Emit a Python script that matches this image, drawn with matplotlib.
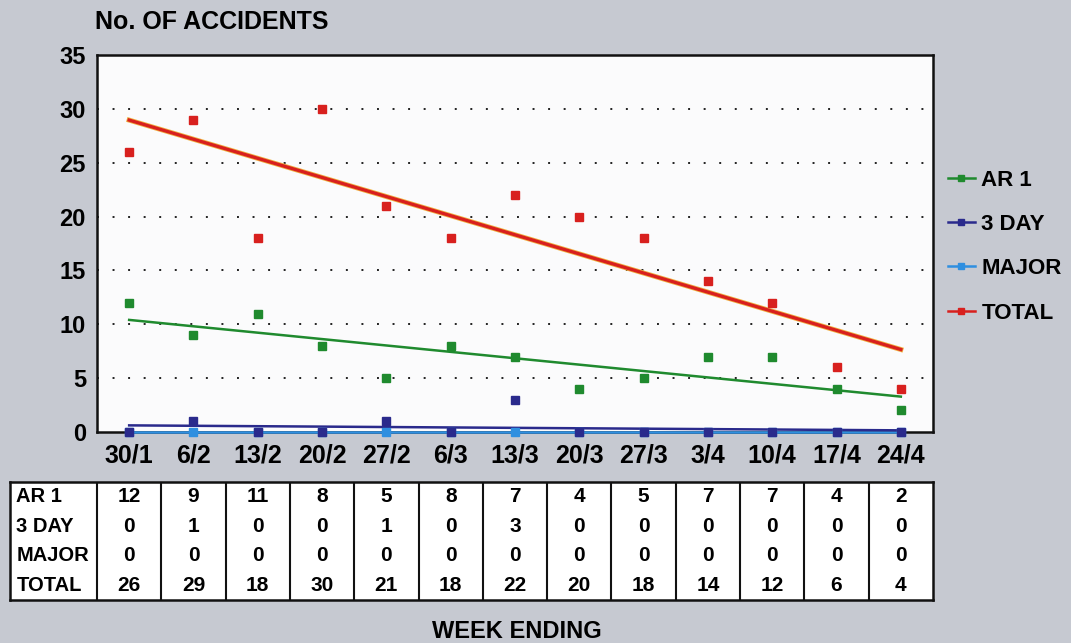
import numpy as np
import matplotlib.pyplot as plt
import matplotlib.patheffects as pe
from matplotlib.lines import Line2D

plt.rcParams['font.family'] = ['Liberation Sans', 'DejaVu Sans']

weeks = ['30/1', '6/2', '13/2', '20/2', '27/2', '6/3', '13/3', '20/3', '27/3', '3/4', '10/4', '17/4', '24/4']
ar1 = [12, 9, 11, 8, 5, 8, 7, 4, 5, 7, 7, 4, 2]
three_day = [0, 1, 0, 0, 1, 0, 3, 0, 0, 0, 0, 0, 0]
major = [0, 0, 0, 0, 0, 0, 0, 0, 0, 0, 0, 0, 0]
total = [26, 29, 18, 30, 21, 18, 22, 20, 18, 14, 12, 6, 4]

series = [('MAJOR', major, '#2f8fe0'),
          ('3 DAY', three_day, '#2a2a8c'),
          ('AR 1', ar1, '#1f8a2e'),
          ('TOTAL', total, '#d8201e')]

bg = '#c6c9d1'
fig = plt.figure(figsize=(10.71, 6.43), dpi=100, facecolor=bg)
ax = fig.add_axes([97/1071, 211/643, 836/1071, 377/643])
ax.set_facecolor('#fbfbfc')

x = np.arange(len(weeks))
for name, vals, col in series:
    k, b = np.polyfit(x, vals, 1)
    fx = np.array([0, len(weeks) - 1])
    lw = 2.4 if name == 'TOTAL' else 1.8
    effects = [pe.Stroke(linewidth=lw + 1.2, foreground='#f0b040'), pe.Normal()] if name == 'TOTAL' else None
    ax.plot(fx, k * fx + b, color=col, lw=lw, clip_on=False, zorder=3, path_effects=effects)
    ax.plot(x, vals, 's', color=col, ms=5.5, clip_on=False, zorder=4)

ax.set_xlim(-0.5, len(weeks) - 0.5)
ax.set_ylim(0, 35)
ax.set_yticks(range(0, 36, 5))
ax.set_xticks(x)
ax.set_xticklabels(weeks)
ax.tick_params(length=0, labelsize=18, pad=8)
ax.tick_params(axis='y', pad=8, labelsize=17)
for lab in ax.get_xticklabels() + ax.get_yticklabels():
    lab.set_fontweight('bold')
for yv in range(5, 35, 5):
    ax.axhline(yv, color='#222222', lw=1.4, ls=(0, (1, 7)), zorder=1)
for s in ax.spines.values():
    s.set_linewidth(1.8)
    s.set_color('#111111')

handles = [Line2D([], [], color=col, marker='s', ms=5, lw=1.8) for _, _, col in series]
order = [2, 1, 0, 3]
ax.legend([handles[i] for i in order], [series[i][0] for i in order],
          loc='upper left', bbox_to_anchor=(1.018, 0.696), frameon=False,
          borderaxespad=0, borderpad=0,
          handlelength=1.2, handletextpad=0.3, labelspacing=1.05,
          prop={'size': 16, 'weight': 'bold'})

fig.text(95/1071, 1 - 22/643, 'No. OF ACCIDENTS', fontsize=18, fontweight='bold', va='center', ha='left')
fig.text(517/1071, 1 - 632/643, 'WEEK ENDING', fontsize=17, fontweight='bold', va='center', ha='center')

# data table under the axis
left_x = -0.5 - 87/64.3
tax = fig.add_axes([10/1071, 43/643, 923/1071, 118/643])
tax.set_xlim(left_x, len(weeks) - 0.5)
tax.set_ylim(4, 0)
tax.set_facecolor('white')
tax.set_xticks([])
tax.set_yticks([])
for s in tax.spines.values():
    s.set_linewidth(1.8)
    s.set_color('#111111')
for cx in np.arange(-0.5, len(weeks) - 0.5, 1.0):
    tax.axvline(cx, color='#111111', lw=1.5)
rows = [('AR 1', ar1), ('3 DAY', three_day), ('MAJOR', major), ('TOTAL', total)]
for r, (name, vals) in enumerate(rows):
    tax.text(left_x + 0.1, r + 0.5, name, fontsize=14.5, fontweight='bold', va='center', ha='left')
    for c, v in enumerate(vals):
        tax.text(c, r + 0.5, str(v), fontsize=15, fontweight='bold', va='center', ha='center')

fig.savefig('out.png', dpi=100, facecolor=bg)
